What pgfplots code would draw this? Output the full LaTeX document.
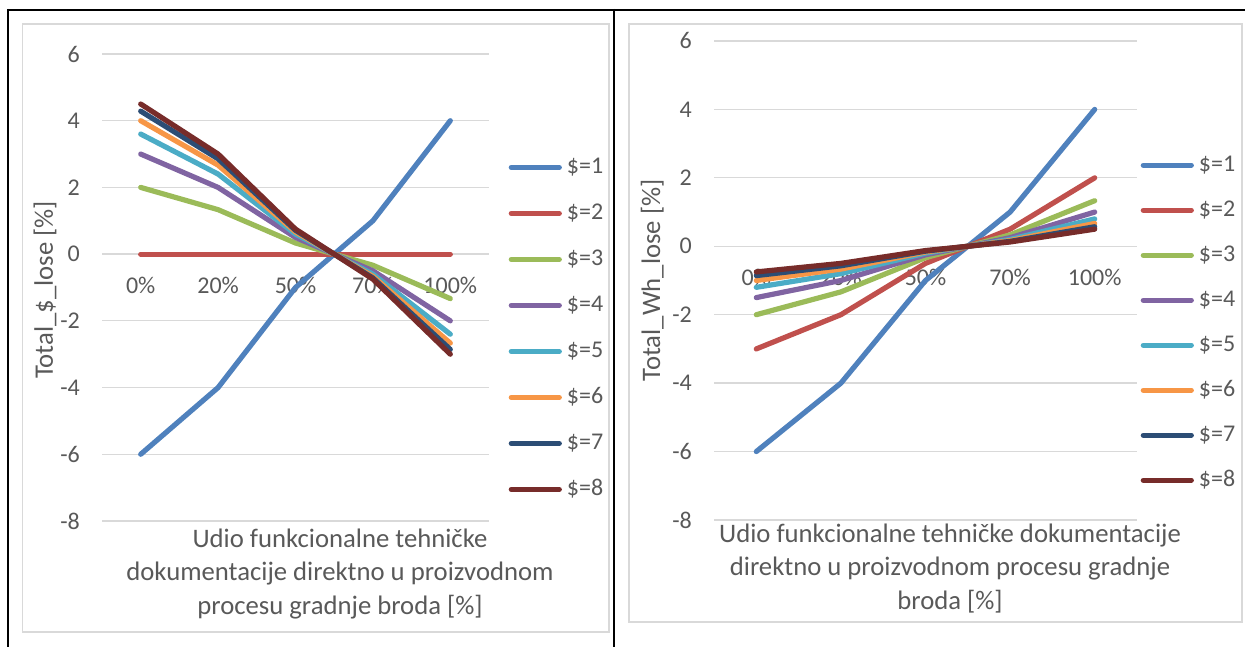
\documentclass[border=0pt]{standalone}
\usepackage{fontspec}
\setmainfont{Carlito}
\usepackage{pgfplots}
\usepackage{pgfplotstable}
\pgfplotsset{compat=1.18}
\definecolor{txt}{HTML}{595959}
\definecolor{grd}{HTML}{D9D9D9}
\definecolor{c1}{HTML}{4F81BD}
\definecolor{c2}{HTML}{C0504D}
\definecolor{c3}{HTML}{9BBB59}
\definecolor{c4}{HTML}{8064A2}
\definecolor{c5}{HTML}{4BACC6}
\definecolor{c6}{HTML}{F79646}
\definecolor{c7}{HTML}{2C4D75}
\definecolor{c8}{HTML}{772C2A}
\newcommand\cf{\fontsize{24}{29}\selectfont}
\newcommand\tf{\fontsize{26.7}{33.5}\selectfont}

\pgfplotstableread{
x s1 s2 s3 s4 s5 s6 s7 s8
0 -6 0 2 3 3.6 4 4.286 4.5
1 -4 0 1.333 2 2.4 2.667 2.857 3
2 -1 0 0.333 0.5 0.6 0.667 0.714 0.75
3 1 0 -0.333 -0.5 -0.6 -0.667 -0.714 -0.75
4 4 0 -1.333 -2 -2.4 -2.667 -2.857 -3
}\leftdata
\pgfplotstableread{
x s1 s2 s3 s4 s5 s6 s7 s8
0 -6 -3 -2 -1.5 -1.2 -1 -0.857 -0.75
1 -4 -2 -1.333 -1 -0.8 -0.667 -0.571 -0.5
2 -1 -0.5 -0.333 -0.25 -0.2 -0.167 -0.143 -0.125
3 1 0.5 0.333 0.25 0.2 0.167 0.143 0.125
4 4 2 1.333 1 0.8 0.667 0.571 0.5
}\rightdata

\pgfplotsset{
  exstyle/.style={
    scale only axis, set layers,
    axis x line*=middle, axis y line*=left,
    axis line style={draw=none},
    xmin=-0.5, xmax=4.5, ymin=-8, ymax=6,
    xtick={0,...,4}, xticklabels={0\%,20\%,50\%,70\%,100\%},
    ytick={-8,-6,...,6}, yticklabels={-8,-6,-4,-2,0,2,4,6},
    major tick length=0pt,
    ymajorgrids, grid style={grd, line width=1.3pt},
    tick label style={font=\cf, text=txt},
    yticklabel style={anchor=east, inner sep=0pt, xshift=-22pt},
    xticklabel style={anchor=center, inner sep=0pt, yshift=-31pt},
    every axis plot/.append style={line width=5.2pt, line cap=round, line join=round},
    legend cell align=left,
    legend image code/.code={\draw[#1,line width=5.2pt,line cap=round] (0pt,0pt) -- (48pt,0pt);},
    legend style={draw=none, fill=none, inner sep=0pt, font=\cf, text=txt,
      row sep=26pt, column sep=5pt, anchor=north west,
      nodes={inner sep=0pt, text height=16pt, text depth=4pt}},
    every axis y label/.style={rotate=90, anchor=center, font=\tf, text=txt},
    every axis x label/.style={anchor=north, align=center, font=\tf, text=txt},
  }
}

\begin{document}
\begin{tikzpicture}
\draw[grd, line width=1.3pt] (22.7pt,623pt) rectangle (609pt,15pt);
\draw[grd, line width=1.3pt] (629pt,623pt) rectangle (1242pt,25pt);
\draw[black, line width=2.5pt] (7pt,637pt) -- (1245pt,637pt);
\draw[black, line width=2.5pt] (8pt,638pt) -- (8pt,0pt);
\draw[black, line width=2.5pt] (614pt,638pt) -- (614pt,0pt);

\begin{axis}[exstyle, at={(102pt,126pt)}, anchor=south west,
  width=387pt, height=467pt,
  xlabel={Udio funkcionalne tehničke\\dokumentacije direktno u proizvodnom\\procesu gradnje broda [\%]},
  ylabel={Total\_\$\_lose [\%]},
  every axis x label/.append style={at={(axis description cs:0.615,-0.0094)}},
  every axis y label/.append style={at={(axis description cs:-0.147,0.495)}},
  legend style={at={(axis description cs:1.0504,0.779)}}]
\addplot[c1] table[x=x,y=s1]{\leftdata}; \addlegendentry{\$=1}
\addplot[c2] table[x=x,y=s2]{\leftdata}; \addlegendentry{\$=2}
\addplot[c3] table[x=x,y=s3]{\leftdata}; \addlegendentry{\$=3}
\addplot[c4] table[x=x,y=s4]{\leftdata}; \addlegendentry{\$=4}
\addplot[c5] table[x=x,y=s5]{\leftdata}; \addlegendentry{\$=5}
\addplot[c6] table[x=x,y=s6]{\leftdata}; \addlegendentry{\$=6}
\addplot[c7] table[x=x,y=s7]{\leftdata}; \addlegendentry{\$=7}
\addplot[c8] table[x=x,y=s8]{\leftdata}; \addlegendentry{\$=8}
\end{axis}

\begin{axis}[exstyle, at={(714pt,127pt)}, anchor=south west,
  width=423pt, height=479pt,
  xlabel={Udio funkcionalne tehničke dokumentacije\\direktno u proizvodnom procesu gradnje\\broda [\%]},
  ylabel={Total\_Wh\_lose [\%]},
  every axis x label/.append style={at={(axis description cs:0.558,-0.0008)}},
  every axis y label/.append style={at={(axis description cs:-0.146,0.50)}},
  legend style={at={(axis description cs:1.0083,0.762)}, row sep=25pt}]
\addplot[c1] table[x=x,y=s1]{\rightdata}; \addlegendentry{\$=1}
\addplot[c2] table[x=x,y=s2]{\rightdata}; \addlegendentry{\$=2}
\addplot[c3] table[x=x,y=s3]{\rightdata}; \addlegendentry{\$=3}
\addplot[c4] table[x=x,y=s4]{\rightdata}; \addlegendentry{\$=4}
\addplot[c5] table[x=x,y=s5]{\rightdata}; \addlegendentry{\$=5}
\addplot[c6] table[x=x,y=s6]{\rightdata}; \addlegendentry{\$=6}
\addplot[c7] table[x=x,y=s7]{\rightdata}; \addlegendentry{\$=7}
\addplot[c8] table[x=x,y=s8]{\rightdata}; \addlegendentry{\$=8}
\end{axis}
\pgfresetboundingbox
\useasboundingbox (0,0) rectangle (1245pt,647pt);
\end{tikzpicture}
\end{document}
